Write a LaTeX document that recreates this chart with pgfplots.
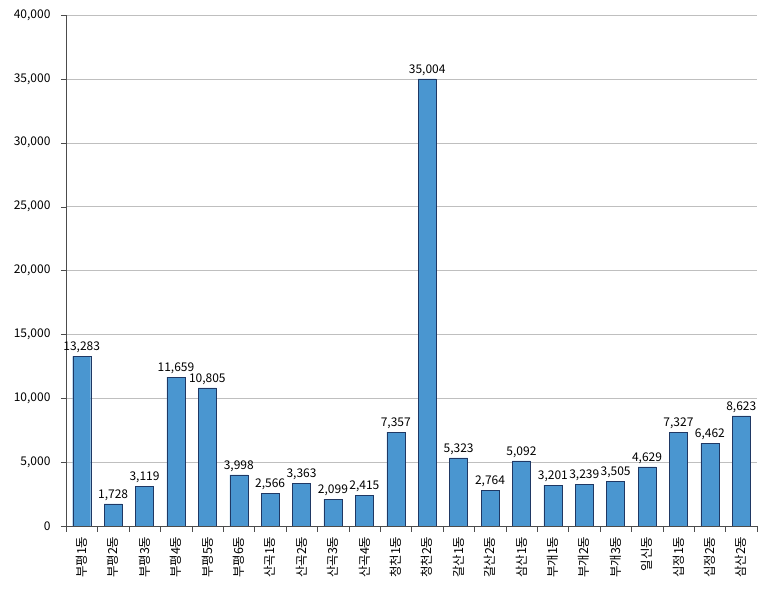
\documentclass[border=0pt]{standalone}
\usepackage{pgfplots}
\pgfplotsset{compat=1.18}
\usepackage{fontspec}
\setmainfont{Noto Sans CJK KR}
\definecolor{barfill}{HTML}{4A96D0}
\definecolor{baredge}{HTML}{1F3864}
\begin{document}
\begin{tikzpicture}
\begin{axis}[
  scale only axis,
  width=691pt, height=511pt,
  ybar, bar width=18pt,
  xmin=-0.5, xmax=21.5,
  ymin=0, ymax=40000,
  ytick={0,5000,...,40000},
  scaled y ticks=false,
  /pgf/number format/1000 sep={,},
  /pgf/number format/assume math mode=true,
  axis x line*=bottom, axis y line*=left,
  ymajorgrids, major grid style={draw=gray!50},
  xtick={0,...,21},
  xticklabels={부평1동,부평2동,부평3동,부평4동,부평5동,부평6동,산곡1동,산곡2동,산곡3동,산곡4동,청천1동,청천2동,갈산1동,갈산2동,삼산1동,부개1동,부개2동,부개3동,일신동,십정1동,십정2동,삼산2동},
  xticklabel style={rotate=90, anchor=east, font=\fontsize{12.5}{14}\selectfont},
  xticklabel shift={2pt},
  yticklabel style={font=\fontsize{12}{14}\selectfont, xshift=-7pt},
  xtick style={draw=none},
  minor xtick={-0.5,0.5,...,21.5},
  minor x tick style={draw=gray!60!black},
  minor tick length=6pt,
  major tick length=5pt,
  tick align=outside,
  ytick style={draw=gray!60!black},
  axis line style={draw=gray!60!black},
  nodes near coords,
  nodes near coords style={font=\fontsize{12}{14}\selectfont, black},
]
\addplot[fill=barfill, draw=baredge] coordinates {
(0,13283) (1,1728) (2,3119) (3,11659) (4,10805) (5,3998) (6,2566) (7,3363)
(8,2099) (9,2415) (10,7357) (11,35004) (12,5323) (13,2764) (14,5092) (15,3201)
(16,3239) (17,3505) (18,4629) (19,7327) (20,6462) (21,8623)
};
\coordinate (tr) at (rel axis cs:1,1);
\coordinate (bl) at (rel axis cs:0,0);
\end{axis}
\path (tr) ++(16pt,15pt);
\path (bl) ++(-66pt,-70pt);
\end{tikzpicture}
\end{document}
